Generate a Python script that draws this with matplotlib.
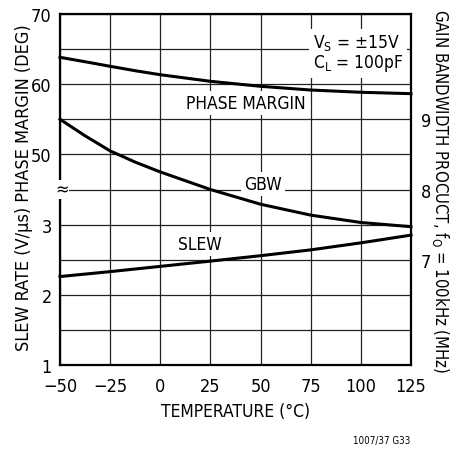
#!/usr/bin/env python
"""Slew rate, phase margin and gain bandwidth product vs temperature."""

import matplotlib
matplotlib.use('Agg')
import matplotlib.pyplot as plt
from matplotlib import font_manager

# a narrow sans looks closest to the datasheet lettering
installed = {f.name for f in font_manager.fontManager.ttflist}
condensed = {f.name for f in font_manager.fontManager.ttflist
             if 'condensed' in str(f.stretch) or 'narrow' in f.fname.lower()}
if 'Liberation Sans Narrow' in installed:
    plt.rcParams['font.family'] = ['Liberation Sans Narrow', 'DejaVu Sans']
elif 'DejaVu Sans' in condensed:
    plt.rcParams['font.family'] = ['DejaVu Sans']
    plt.rcParams['font.stretch'] = 'condensed'
else:
    plt.rcParams['font.family'] = ['Roboto', 'DejaVu Sans']
plt.rcParams['mathtext.default'] = 'regular'

# temperature (degC)
temp_pm = [-50, -37.5, -25, -12.5, 0, 25, 50, 75, 100, 125]
# phase margin (deg)
phase_margin = [63.83, 63.2, 62.55, 61.92, 61.35, 60.41, 59.7,
                59.17, 58.85, 58.65]
temp_gbw = [-50, -37.5, -25, -12.5, 0, 25, 50, 75, 100, 125]
# gain bandwidth product (MHz)
gbw = [9.0, 8.765, 8.55, 8.39, 8.25, 8.0, 7.79, 7.635, 7.53, 7.47]
temp_slew = [-50, -25, 0, 25, 50, 75, 100, 125]
# slew rate (V/us)
slew = [2.26, 2.33, 2.405, 2.48, 2.557, 2.64, 2.74, 2.85]

x_ticks = [-50, -25, 0, 25, 50, 75, 100, 125]
x_tick_labels = ['\u221250', '\u221225', '0', '25', '50', '75', '100', '125']
slew_ticks = [1, 2, 3]
pm_ticks = [50, 60, 70]
gbw_ticks = [7, 8, 9]

W, H = 464, 452
fig = plt.figure(figsize=(W / 100, H / 100), dpi=100)
ax = fig.add_axes([60 / W, (H - 366) / H, 351 / W, 351 / H])

# slew rate scale sets the grid: 10 divisions of 0.5 V/us
ax.set_xlim(-50, 125)
ax.set_ylim(1, 6)
ax.set_xticks(x_ticks)
ax.set_xticklabels(x_tick_labels)
ax.set_yticks(slew_ticks)
ax.set_yticks([1 + 0.5 * i for i in range(11)], minor=True)
ax.grid(True, which='both', color='#222222', linewidth=0.9)
ax.set_axisbelow(True)
ax.tick_params(which='both', length=0)
ax.tick_params(axis='x', labelsize=13, pad=8.5)
ax.tick_params(axis='y', labelsize=13, pad=6)
for sp in ax.spines.values():
    sp.set_linewidth(1.6)

# phase margin on its own scale, labelled on the left as well
ax_pm = ax.twinx()
ax_pm.set_ylim(20, 70)
ax_pm.yaxis.set_ticks_position('left')
ax_pm.set_yticks(pm_ticks)
ax_pm.tick_params(length=0, labelsize=13, pad=6)

# gain bandwidth product, labelled on the right
ax_g = ax.twinx()
ax_g.set_ylim(5.5, 10.5)
ax_g.set_yticks(gbw_ticks)
ax_g.tick_params(length=0, labelsize=13, pad=7)

for a in (ax_pm, ax_g):
    for sp in a.spines.values():
        sp.set_visible(False)

ax_pm.plot(temp_pm, phase_margin, color='black', lw=2.2, clip_on=False,
           solid_joinstyle='round')
ax_g.plot(temp_gbw, gbw, color='black', lw=2.2, clip_on=False,
          solid_joinstyle='round')
ax.plot(temp_slew, slew, color='black', lw=2.2, clip_on=False,
        solid_joinstyle='round')

box = dict(facecolor='white', edgecolor='none', pad=2)
ax.text(42.7, 4.73, 'PHASE MARGIN', ha='center', va='center', fontsize=12.5,
        bbox=box, zorder=3)
ax.text(51.2, 3.58, 'GBW', ha='center', va='center', fontsize=12.5,
        bbox=box, zorder=3)
ax.text(19.8, 2.72, 'SLEW', ha='center', va='center', fontsize=12.5,
        bbox=box, zorder=3)
ax.text(76, 5.45, 'V$_S$ = \u00b115V\nC$_L$ = 100pF', ha='left',
        va='center', fontsize=12.5, linespacing=1.05,
        bbox=dict(facecolor='white', edgecolor='none', pad=3), zorder=3)

# axis break mark between the two left scales
ax.text(-49, 3.5, '\u2248', ha='center', va='center', fontsize=13,
        bbox=dict(facecolor='white', edgecolor='none', pad=0.3),
        zorder=6, clip_on=False)

ax.set_xlabel('TEMPERATURE (\u00b0C)', fontsize=12.5, labelpad=5)
fig.text(24 / W, 1 - 188 / H, 'SLEW RATE (V/\u03bcs) PHASE MARGIN (DEG)',
         rotation=90, ha='center', va='center', fontsize=13)
fig.text(441 / W, 1 - 191 / H,
         'GAIN BANDWIDTH PROCUCT, f$_O$ = 100kHz (MHz)',
         rotation=270, ha='center', va='center', fontsize=12)
fig.text(410 / W, 1 - 441 / H, '1007/37 G33', ha='right', va='center',
         fontsize=7)

fig.savefig('out.png', dpi=100)
